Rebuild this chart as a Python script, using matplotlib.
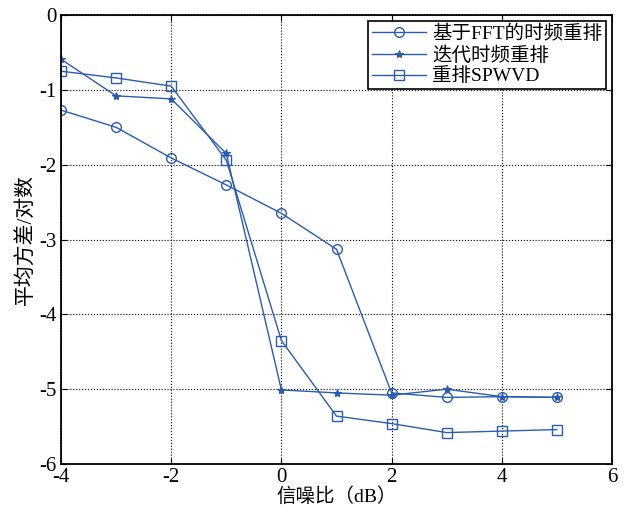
import matplotlib
matplotlib.use('Agg')
import matplotlib.pyplot as plt

plt.rcParams['font.family'] = ['Liberation Serif', 'Noto Sans CJK SC', 'DejaVu Sans']
plt.rcParams['axes.unicode_minus'] = False

# SNR (dB)
snr = [-4, -3, -2, -1, 0, 1, 2, 3, 4, 5]
# mean variance (log) for each method
fft_tfr = [-1.27, -1.50, -1.91, -2.27, -2.65, -3.13, -5.05, -5.11, -5.10, -5.11]
iter_tfr = [-0.59, -1.08, -1.12, -1.85, -5.01, -5.05, -5.08, -5.00, -5.10, -5.11]
spwvd = [-0.75, -0.84, -0.95, -1.94, -4.35, -5.36, -5.46, -5.58, -5.56, -5.54]
labels = ['基于FFT的时频重排', '迭代时频重排', '重排SPWVD']

color = '#2b5cb0'
fig = plt.figure(figsize=(6.25, 5.09), dpi=100)
ax = fig.add_axes([0.0976, 0.0884, 0.8816, 0.882])

ax.plot(snr, fft_tfr, '-o', color=color, lw=1, ms=7, mfc='none', mew=1, label=labels[0])
ax.plot(snr, iter_tfr, '-*', color=color, lw=1, ms=6, mew=0.8, label=labels[1])
ax.plot(snr, spwvd, '-s', color=color, lw=1, ms=7, mfc='none', mew=1, label=labels[2])

ax.set_xlim(-4, 6)
ax.set_ylim(-6, 0)
ax.set_xticks([-4, -2, 0, 2, 4, 6])
ax.set_yticks([-6, -5, -4, -3, -2, -1, 0])
ax.grid(True, color='black', linestyle=':', linewidth=0.8)
ax.tick_params(direction='in', labelsize=15, length=4, top=True, right=True)
ax.tick_params(axis='x', pad=3)
for s in ax.spines.values():
    s.set_linewidth(1.3)
ax.set_xlabel('信噪比（dB）', fontsize=14, labelpad=0)
ax.set_ylabel('平均方差/对数', fontsize=15, labelpad=2)

leg = ax.legend(loc='upper right', fontsize=14, fancybox=False, framealpha=1,
                edgecolor='black', borderpad=0.2, handlelength=2.8,
                labelspacing=0.15, borderaxespad=0.3, handletextpad=0.3)
leg.get_frame().set_linewidth(1.2)

fig.savefig('out.png', dpi=100)
